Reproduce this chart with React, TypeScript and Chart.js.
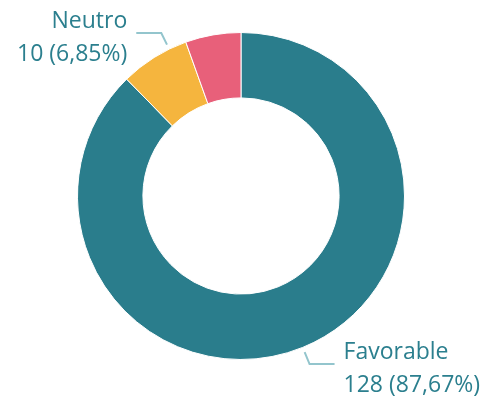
import React, { useEffect, useRef } from "react";
import { Chart, registerables } from "chart.js";

Chart.register(...registerables);

const categories = ["Favorable", "Neutro", "Desfavorable"];
const values = [128, 10, 8];
const showLabel = [true, true, false];
const colors = ["#2a7d8c", "#f5b53e", "#e8607a"];

const TEXT_COLOR = "#2b7f8e";
const LEADER_COLOR = "#93c5cd";

const leaderLabels = {
  id: "leaderLabels",
  afterDatasetsDraw(chart: any, _args: any, opts: any) {
    const ctx = chart.ctx;
    const meta = chart.getDatasetMeta(0);
    const total = values.reduce((a, b) => a + b, 0);
    meta.data.forEach((arc: any, i: number) => {
      if (!showLabel[i]) return;
      const { x, y, startAngle, endAngle, outerRadius } = arc.getProps(
        ["x", "y", "startAngle", "endAngle", "outerRadius"],
        true
      );
      const mid = (startAngle + endAngle) / 2 + ((opts.angleShift && opts.angleShift[i]) || 0);
      const c = Math.cos(mid);
      const s = Math.sin(mid);
      const r0 = outerRadius + 5;
      const r1 = r0 + 13;
      const p0x = x + c * r0;
      const p0y = y + s * r0;
      const p1x = x + c * r1;
      const p1y = y + s * r1;
      const side = c >= 0 ? 1 : -1;
      const p2x = p1x + side * 25;
      const p2y = p1y;
      ctx.save();
      ctx.strokeStyle = LEADER_COLOR;
      ctx.lineWidth = 2;
      ctx.beginPath();
      ctx.moveTo(p0x, p0y);
      ctx.lineTo(p1x, p1y);
      ctx.lineTo(p2x, p2y);
      ctx.stroke();
      ctx.fillStyle = TEXT_COLOR;
      ctx.font = '23px "Open Sans"';
      ctx.textAlign = side > 0 ? "left" : "right";
      ctx.textBaseline = "alphabetic";
      const tx = p2x + side * 9;
      const pct = ((values[i] / total) * 100).toFixed(2).replace(".", ",");
      ctx.fillText(categories[i], tx, p2y - 5);
      ctx.fillText(`${values[i]} (${pct}%)`, tx, p2y + 28);
      ctx.restore();
    });
  },
};

export default function App() {
  const ref = useRef<HTMLCanvasElement | null>(null);
  useEffect(() => {
    if (!ref.current) return;
    const chart = new Chart(ref.current, {
      type: "doughnut",
      data: {
        labels: categories,
        datasets: [
          {
            data: values,
            backgroundColor: colors,
            borderColor: "#ffffff",
            borderWidth: 1,
          },
        ],
      },
      options: {
        responsive: false,
        animation: false,
        cutout: "60%",
        layout: { padding: { left: 77, right: 83, top: 32, bottom: 40 } },
        plugins: {
          legend: { display: false },
          tooltip: { enabled: false },
          leaderLabels: { angleShift: [0, (6 * Math.PI) / 180, 0] },
        } as any,
      },
      plugins: [leaderLabels],
    });
    return () => chart.destroy();
  }, []);
  return (
    <div style={{ position: "fixed", left: 0, top: 0, width: 488, height: 400, background: "#fff" }}>
      <canvas ref={ref} width={488} height={400} style={{ display: "block" }} />
    </div>
  );
}
